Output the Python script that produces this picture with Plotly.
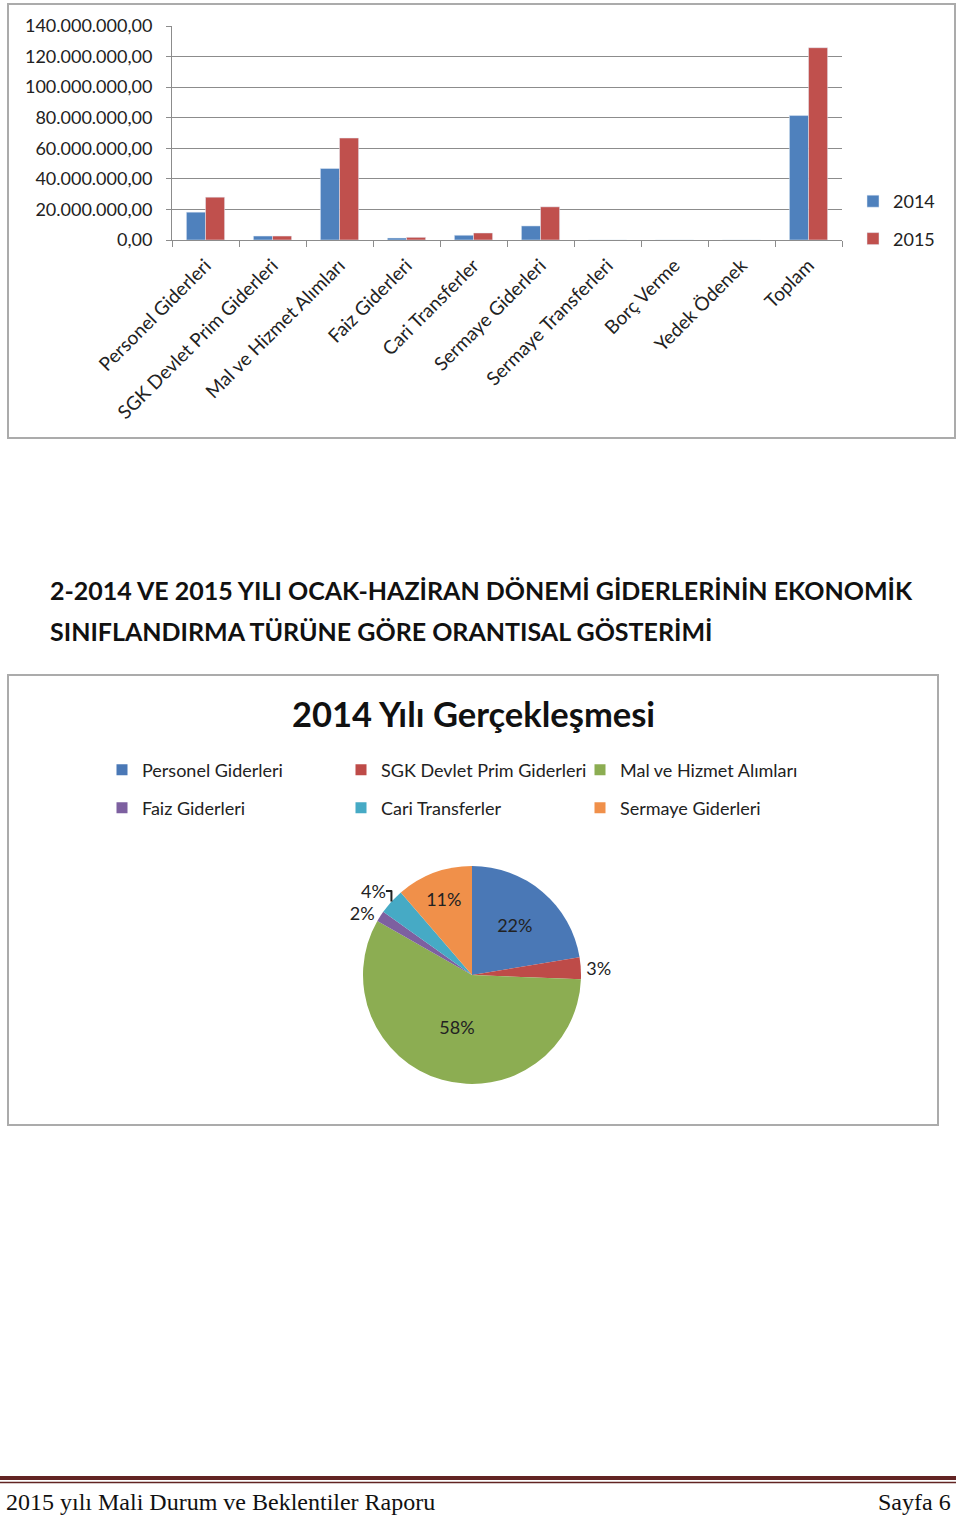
import plotly.graph_objects as go

W, H = 960, 1518

categories = ["Personel Giderleri", "SGK Devlet Prim Giderleri", "Mal ve Hizmet Alımları",
              "Faiz Giderleri", "Cari Transferler", "Sermaye Giderleri",
              "Sermaye Transferleri", "Borç Verme", "Yedek Ödenek", "Toplam"]
values_2014 = [18200000, 2600000, 46800000, 1300000, 3100000, 9200000, 0, 0, 0, 81400000]
values_2015 = [28000000, 2600000, 66700000, 1750000, 4600000, 21700000, 0, 0, 0, 125800000]

pie_labels = ["Personel Giderleri", "SGK Devlet Prim Giderleri", "Mal ve Hizmet Alımları",
              "Faiz Giderleri", "Cari Transferler", "Sermaye Giderleri"]
pie_values = [18200000, 2600000, 46800000, 1300000, 3100000, 9200000]
pie_colors = ["#4A78B6", "#BE4B48", "#8CAD52", "#7D60A0", "#46AAC5", "#F0904A"]
pie_textpos = ["inside", "outside", "inside", "outside", "outside", "inside"]

FONT = "Lato"
TXT = "#222222"


def X(px):
    return px / W


def Y(py):
    return 1 - py / H


fig = go.Figure()
fig.add_trace(go.Bar(x=categories, y=values_2014, name="2014", marker_color="#4F81BD",
                     legendgroup="a"))
fig.add_trace(go.Bar(x=categories, y=values_2015, name="2015", marker_color="#C0504D",
                     legendgroup="b"))

fig.add_trace(go.Pie(
    labels=pie_labels, values=pie_values, sort=False, direction="clockwise", rotation=0,
    marker=dict(colors=pie_colors, line=dict(width=0)),
    texttemplate="%{percent:.0%}", textposition=pie_textpos,
    insidetextorientation="horizontal",
    textfont=dict(family=FONT, size=18, color=TXT),
    domain=dict(x=[X(363), X(581)], y=[Y(1084), Y(866)]),
    showlegend=False,
))

# pie legend entries (two rows of three, like the reference)
for i, (lab, col) in enumerate(zip(pie_labels, pie_colors)):
    fig.add_trace(go.Scatter(
        x=[None], y=[None], mode="markers", name=lab,
        marker=dict(symbol="square", size=11, color=col),
        legend="legend2" if i < 3 else "legend3", showlegend=True, hoverinfo="skip",
    ))

shapes = [
    dict(type="rect", xref="paper", yref="paper", x0=X(8), x1=X(955), y0=Y(438), y1=Y(4),
         line=dict(color="#ABABAB", width=2), fillcolor="rgba(0,0,0,0)"),
    dict(type="rect", xref="paper", yref="paper", x0=X(8), x1=X(938), y0=Y(1125), y1=Y(675),
         line=dict(color="#ABABAB", width=2), fillcolor="rgba(0,0,0,0)"),
    dict(type="line", xref="paper", yref="paper", x0=X(0), x1=X(956), y0=Y(1478), y1=Y(1478),
         line=dict(color="#622423", width=4)),
    dict(type="line", xref="paper", yref="paper", x0=X(0), x1=X(956), y0=Y(1482.5), y1=Y(1482.5),
         line=dict(color="#622423", width=1.3)),
]


def ann(text, x, y, anchor, size, family=FONT, bold=False):
    return dict(text=text, x=X(x), y=Y(y), xref="paper", yref="paper", xanchor=anchor,
                yanchor="middle", showarrow=False,
                font=dict(family=family, size=size, color="#111111",
                          weight="bold" if bold else "normal"))


annotations = [
    ann("2-2014 VE 2015 YILI OCAK-HAZİRAN DÖNEMİ GİDERLERİNİN EKONOMİK", 48, 590, "left", 25, bold=True),
    ann("SINIFLANDIRMA TÜRÜNE GÖRE ORANTISAL GÖSTERİMİ", 48, 631, "left", 25, bold=True),
    ann("2014 Yılı Gerçekleşmesi", 473, 713, "center", 34.5, bold=True),
    ann("2015 yılı Mali Durum ve Beklentiler Raporu", 4, 1502, "left", 24, family="Liberation Serif"),
    ann("Sayfa 6", 953, 1502, "right", 24, family="Liberation Serif"),
]

legend_common = dict(xanchor="left", yanchor="middle", orientation="h",
                     entrywidth=194, entrywidthmode="pixels", itemwidth=30,
                     font=dict(family=FONT, size=18, color=TXT), bgcolor="rgba(0,0,0,0)")

fig.update_layout(
    width=W, height=H, margin=dict(l=0, r=0, t=0, b=0, autoexpand=False),
    paper_bgcolor="white", plot_bgcolor="white",
    separators=",.",
    barmode="group", bargap=0.43, bargroupgap=0,
    font=dict(family=FONT, size=18, color=TXT),
    xaxis=dict(domain=[X(172), X(842)], anchor="y", showline=True, linecolor="#8C8C8C",
               linewidth=1, ticks="outside", tickson="boundaries", ticklen=6,
               tickcolor="#8C8C8C", tickangle=-45, automargin=False, ticklabelstandoff=6,
               tickfont=dict(family=FONT, size=19, color=TXT),
               showgrid=False, fixedrange=True),
    yaxis=dict(domain=[Y(240), Y(26)], anchor="x", range=[0, 140000000], dtick=20000000,
               tickformat=",.2f", showline=True, linecolor="#8C8C8C", linewidth=1,
               ticks="outside", ticklen=5, tickcolor="#8C8C8C", automargin=False,
               showgrid=True, gridcolor="#8C8C8C", gridwidth=1, zeroline=False,
               ticklabelstandoff=10, tickfont=dict(family=FONT, size=18, color=TXT)),
    legend=dict(x=X(853), y=Y(183), xanchor="left", yanchor="top", traceorder="grouped",
                tracegroupgap=11, font=dict(family=FONT, size=18, color=TXT),
                bgcolor="rgba(0,0,0,0)", itemwidth=30),
    legend2=dict(x=X(102), y=Y(770), **legend_common),
    legend3=dict(x=X(102), y=Y(808), **legend_common),
    shapes=shapes, annotations=annotations,
)

# remove the browser's default 8px body margin so the figure sits at the page origin
fig.write_html("out.html", config={"displayModeBar": False},
               post_script="document.body.style.margin='0px';document.body.style.overflow='hidden';")
